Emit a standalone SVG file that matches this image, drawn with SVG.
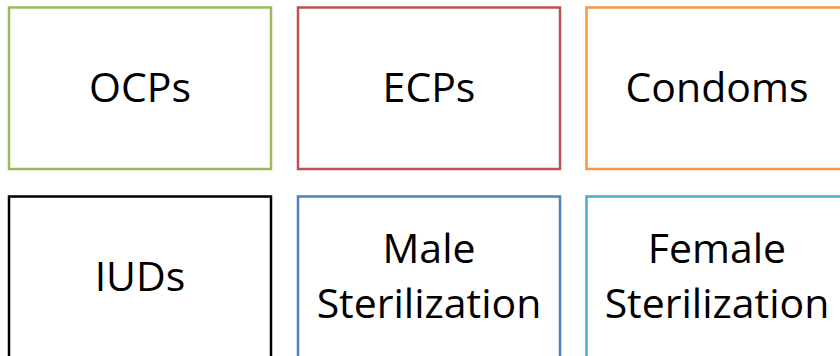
<svg xmlns="http://www.w3.org/2000/svg" width="840" height="356" viewBox="0 0 840 356">
  <style>
    .box { fill: #FFFFFF; stroke-width: 2.5; }
    .lbl { font-family: "Open Sans", "Liberation Sans", sans-serif; font-size: 41px; fill: #000000; text-anchor: middle; }
  </style>
  <rect width="840" height="356" fill="#FFFFFF"/>
  <g id="connectors"/>
  <g id="ocps">
    <rect class="box" x="9" y="7.5" width="262" height="161.5" stroke="#9BBB59"/>
    <text class="lbl" x="140" y="102">OCPs</text>
  </g>
  <g id="ecps">
    <rect class="box" x="298" y="7.5" width="262" height="161.5" stroke="#C0504D"/>
    <text class="lbl" x="429" y="102">ECPs</text>
  </g>
  <g id="condoms">
    <rect class="box" x="586.5" y="7.5" width="262" height="161.5" stroke="#F79646"/>
    <text class="lbl" x="717" y="102">Condoms</text>
  </g>
  <g id="iuds">
    <rect class="box" x="9" y="196.5" width="262" height="161.5" stroke="#000000"/>
    <text class="lbl" x="140" y="291">IUDs</text>
  </g>
  <g id="male-sterilization">
    <rect class="box" x="298" y="196.5" width="262" height="161.5" stroke="#4F81BD"/>
    <text class="lbl" x="429" y="263">Male</text>
    <text class="lbl" x="429" y="318">Sterilization</text>
  </g>
  <g id="female-sterilization">
    <rect class="box" x="586.5" y="196.5" width="262" height="161.5" stroke="#4BACC6"/>
    <text class="lbl" x="717" y="263">Female</text>
    <text class="lbl" x="717" y="318">Sterilization</text>
  </g>
</svg>
